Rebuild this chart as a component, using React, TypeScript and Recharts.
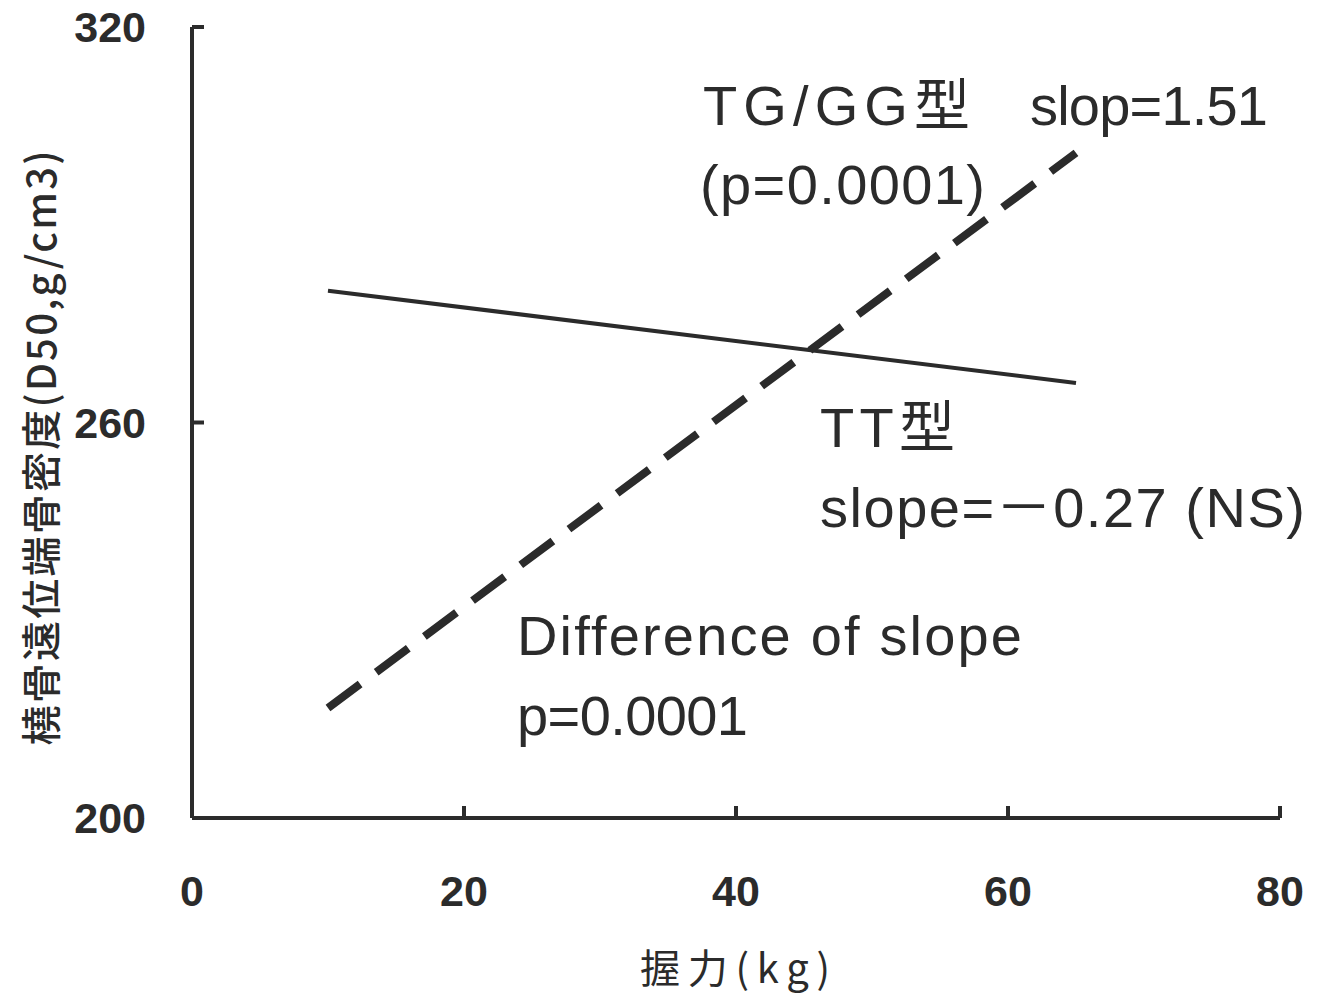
import React from 'react';
import { LineChart, Line, XAxis, YAxis, Customized } from 'recharts';

// grip strength (kg) at the two ends of each regression line
const gripKg = [10, 65];
// TT type: radius distal BMD
const ttBmd = [280, 266];
// TG/GG type: radius distal BMD
const tgggBmd = [216.7, 300.9];

const xTicks = [0, 20, 40, 60, 80];
const yTicks = [200, 260, 320];

const notes = [
  'TG/GG型',
  'slop=1.51',
  '(p=0.0001)',
  'TT型',
  'slope=－0.27 (NS)',
  'Difference of slope',
  'p=0.0001',
];

const data = gripKg.map((x, i) => ({ x, tt: ttBmd[i], tggg: tgggBmd[i] }));

const INK = '#2b2b2b';
const NOTE_FONT = '"Liberation Sans", "Noto Sans CJK JP", sans-serif';
const CJK_FONT = '"Noto Sans CJK JP", "Noto Sans", sans-serif';
const TICK_FONT = '"Liberation Sans", Arial, sans-serif';

// left x, baseline y, width of each note
const notePos: [number, number, number][] = [
  [703, 125, 267],
  [1030, 125, 238],
  [700, 204, 285],
  [820, 447, 135],
  [820, 527, 485],
  [517, 655, 505],
  [517, 735, 231],
];

function Notes() {
  return (
    <g>
      {notes.map((t, i) => (
        <text
          key={t}
          x={notePos[i][0]}
          y={notePos[i][1]}
          textLength={notePos[i][2]}
          fontFamily={NOTE_FONT}
          fontSize={56}
          fill={INK}
        >
          {t}
        </text>
      ))}
      <text
        transform="translate(56, 448) rotate(-90)"
        textAnchor="middle"
        textLength={595}
        fontFamily={CJK_FONT}
        fontWeight={500}
        fontSize={40}
        fill={INK}
      >
        橈骨遠位端骨密度(D50,g/cm3)
      </text>
      <text
        x={640}
        y={983}
        textLength={190}
        fontFamily={CJK_FONT}
        fontSize={40}
        fill={INK}
      >
        握力(kg)
      </text>
    </g>
  );
}

export default function App() {
  return (
    <div style={{ position: 'absolute', left: 0, top: 0, width: 1320, height: 994, background: '#fff' }}>
      <LineChart
        width={1320}
        height={994}
        data={data}
        margin={{ top: 27, right: 40, left: 92, bottom: 76 }}
      >
        <XAxis
          dataKey="x"
          type="number"
          domain={[0, 80]}
          ticks={xTicks}
          height={100}
          tickSize={-12}
          tickMargin={69}
          axisLine={{ stroke: INK, strokeWidth: 4 }}
          tickLine={{ stroke: INK, strokeWidth: 4 }}
          tick={{ fontSize: 43, fontWeight: 700, fill: INK, fontFamily: TICK_FONT }}
        />
        <YAxis
          type="number"
          domain={[200, 320]}
          ticks={yTicks}
          width={100}
          tickSize={-12}
          tickMargin={58}
          axisLine={{ stroke: INK, strokeWidth: 4 }}
          tickLine={{ stroke: INK, strokeWidth: 4 }}
          tick={{ fontSize: 43, fontWeight: 700, fill: INK, fontFamily: TICK_FONT }}
        />
        <Line
          type="linear"
          dataKey="tt"
          stroke={INK}
          strokeWidth={4}
          dot={false}
          isAnimationActive={false}
        />
        <Line
          type="linear"
          dataKey="tggg"
          stroke={INK}
          strokeWidth={8}
          strokeDasharray="40 20"
          dot={false}
          isAnimationActive={false}
        />
        <Customized component={Notes} />
      </LineChart>
    </div>
  );
}
